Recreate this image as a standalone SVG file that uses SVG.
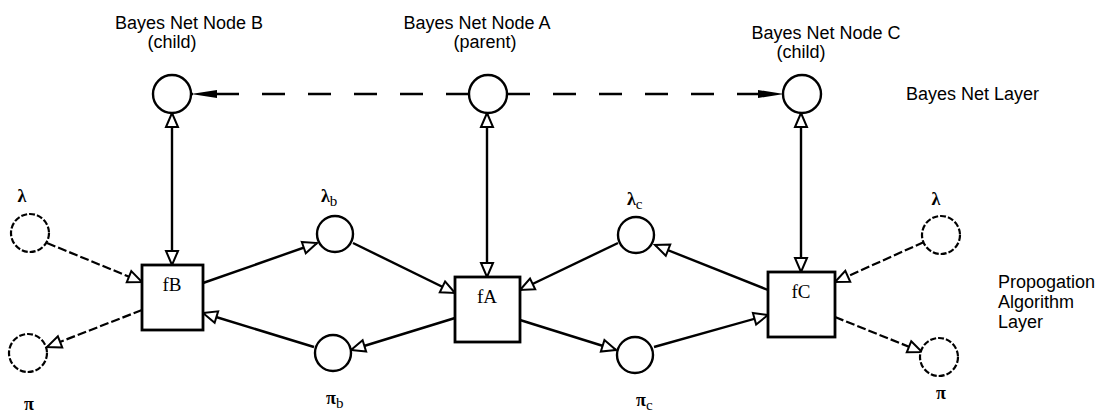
<svg xmlns="http://www.w3.org/2000/svg" width="1107" height="416" viewBox="0 0 1107 416">
<style>
.lbl{font-family:"Liberation Sans",Arial,sans-serif;font-size:18px;fill:#000}
.ser{font-family:"Liberation Serif","Times New Roman",serif;font-size:19px;fill:#000}
.gk{font-family:"Liberation Serif","Times New Roman",serif;font-size:18px;font-weight:bold;fill:#000}
.sub{font-size:15px;font-weight:normal}
.node{fill:#fff;stroke:#000;stroke-width:2.4}
.ext{fill:#fff;stroke:#000;stroke-width:2.2;stroke-dasharray:6 2}
.box{fill:#fff;stroke:#000;stroke-width:2.8}
.c{fill:none;stroke:#000;stroke-width:2.4}
.d{fill:none;stroke:#000;stroke-width:2.2;stroke-dasharray:9 3}
.top{fill:none;stroke:#000;stroke-width:2.4;stroke-dasharray:23 23}
</style>
<defs>
<marker id="open" viewBox="-2 -2 18 16" refX="14" refY="6" markerWidth="18" markerHeight="16" markerUnits="userSpaceOnUse" orient="auto-start-reverse">
<path d="M0,0 L14,6 L0,12 z" fill="#fff" stroke="#000" stroke-width="2"/>
</marker>
<marker id="fill" viewBox="0 0 26 8" refX="26" refY="4" markerWidth="26" markerHeight="8" markerUnits="userSpaceOnUse" orient="auto">
<path d="M0,0 L26,4 L0,8 z" fill="#000"/>
</marker>
</defs>

<g id="connectors">
<line class="top" x1="469" y1="94" x2="191" y2="94" marker-end="url(#fill)"/>
<line class="top" x1="507" y1="94" x2="784" y2="94" marker-end="url(#fill)"/>
<line class="c" x1="172" y1="113" x2="172" y2="265" marker-start="url(#open)" marker-end="url(#open)"/>
<line class="c" x1="487" y1="113" x2="487" y2="277" marker-start="url(#open)" marker-end="url(#open)"/>
<line class="c" x1="801" y1="113" x2="801" y2="272" marker-start="url(#open)" marker-end="url(#open)"/>
<line class="d" x1="47" y1="243" x2="142" y2="282" marker-end="url(#open)"/>
<line class="d" x1="142" y1="310" x2="47" y2="347" marker-end="url(#open)"/>
<line class="c" x1="203" y1="283" x2="317" y2="243" marker-end="url(#open)"/>
<line class="c" x1="353" y1="243" x2="455" y2="293" marker-end="url(#open)"/>
<line class="c" x1="455" y1="318" x2="351" y2="350" marker-end="url(#open)"/>
<line class="c" x1="314" y1="347" x2="203" y2="313" marker-end="url(#open)"/>
<line class="c" x1="618" y1="243" x2="520" y2="290" marker-end="url(#open)"/>
<line class="c" x1="768" y1="290" x2="655" y2="245" marker-end="url(#open)"/>
<line class="c" x1="520" y1="320" x2="616" y2="350" marker-end="url(#open)"/>
<line class="c" x1="654" y1="347" x2="768" y2="315" marker-end="url(#open)"/>
<line class="d" x1="924" y1="242" x2="835" y2="282" marker-end="url(#open)"/>
<line class="d" x1="835" y1="317" x2="922" y2="352" marker-end="url(#open)"/>
</g>

<g id="nodeB"><circle class="node" cx="172" cy="94" r="19"/>
<text class="lbl" x="189" y="29" text-anchor="middle">Bayes Net Node B</text>
<text class="lbl" x="172" y="48" text-anchor="middle">(child)</text></g>
<g id="nodeA"><circle class="node" cx="488" cy="94" r="19"/>
<text class="lbl" x="477" y="29" text-anchor="middle">Bayes Net Node A</text>
<text class="lbl" x="485" y="48" text-anchor="middle">(parent)</text></g>
<g id="nodeC"><circle class="node" cx="802" cy="94" r="19"/>
<text class="lbl" x="826" y="39" text-anchor="middle">Bayes Net Node C</text>
<text class="lbl" x="801" y="58" text-anchor="middle">(child)</text></g>
<g id="layer1"><text class="lbl" x="906" y="100">Bayes Net Layer</text></g>
<g id="layer2"><text class="lbl" x="998" y="288">Propogation</text>
<text class="lbl" x="998" y="308">Algorithm</text>
<text class="lbl" x="998" y="328">Layer</text></g>

<g id="fB"><rect class="box" x="142" y="265" width="61" height="65"/><text class="ser" x="172" y="291" text-anchor="middle">fB</text></g>
<g id="fA"><rect class="box" x="455" y="277" width="65" height="65"/><text class="ser" x="487" y="303" text-anchor="middle">fA</text></g>
<g id="fC"><rect class="box" x="768" y="272" width="67" height="65"/><text class="ser" x="801" y="298" text-anchor="middle">fC</text></g>

<g id="lambdaL"><circle class="ext" cx="30" cy="233" r="19"/><text class="gk" x="22" y="202" text-anchor="middle">λ</text></g>
<g id="piL"><circle class="ext" cx="28" cy="353" r="19"/><text class="gk" x="29" y="410" text-anchor="middle">π</text></g>
<g id="lambdaB"><circle class="node" cx="335" cy="234" r="18"/><text class="gk" x="321" y="202">λ<tspan class="sub" dy="4">b</tspan></text></g>
<g id="piB"><circle class="node" cx="333" cy="353" r="18"/><text class="gk" x="326" y="404">π<tspan class="sub" dy="4">b</tspan></text></g>
<g id="lambdaC"><circle class="node" cx="636" cy="235" r="18"/><text class="gk" x="627" y="205">λ<tspan class="sub" dy="4">c</tspan></text></g>
<g id="piC"><circle class="node" cx="635" cy="355" r="18"/><text class="gk" x="636" y="406">π<tspan class="sub" dy="4">c</tspan></text></g>
<g id="lambdaR"><circle class="ext" cx="941" cy="235" r="19"/><text class="gk" x="936" y="205" text-anchor="middle">λ</text></g>
<g id="piR"><circle class="ext" cx="939" cy="357" r="19"/><text class="gk" x="941" y="399" text-anchor="middle">π</text></g>
</svg>
